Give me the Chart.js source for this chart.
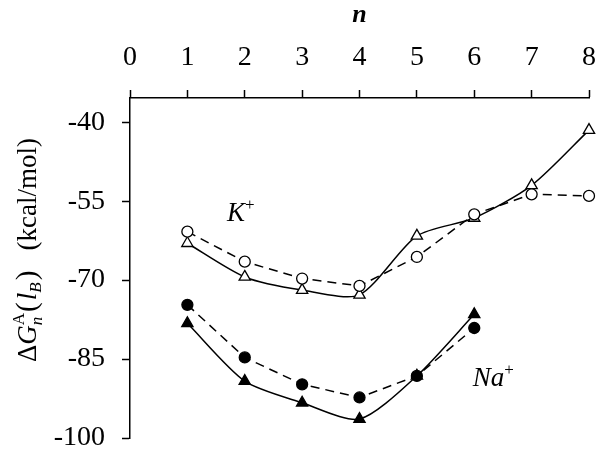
<!DOCTYPE html>
<html>
<head>
<meta charset="utf-8">
<script src="https://cdn.jsdelivr.net/npm/chart.js@4.4.1/dist/chart.umd.min.js"></script>
<style>
  html, body { margin: 0; padding: 0; background: #fff; }
  #wrap { width: 602px; height: 454px; }
</style>
</head>
<body>
<div id="wrap"><canvas id="myChart" width="602" height="454"></canvas></div>
<script>
// number of ions n
var nValues = [1, 2, 3, 4, 5, 6, 7, 8];
var yTicks = [-100, -85, -70, -55, -40];

// K+ series (kcal/mol)
var kCircle = [-60.8, -66.5, -69.7, -71.1, -65.6, -57.5, -53.7, -54.0];
var kTriangle = [-63.0, -69.4, -71.9, -72.8, -61.6, -58.2, -52.0, -41.5];

// Na+ series (kcal/mol), only up to n = 6
var naCircle = [-74.7, -84.7, -89.8, -92.3, -88.2, -79.1];
var naTriangle = [-78.2, -89.2, -93.3, -96.4, -88.2, -76.5];

var serif = "'Liberation Serif', serif";

function toPoints(values) {
    return values.map(function (v, i) {
        return { x: nValues[i], y: v };
    });
}

// draws a sequence of text pieces (normal / italic / sub / sup) left to right
function drawParts(ctx, parts, x, y) {
    var total = 0;
    parts.forEach(function (p) {
        ctx.font = p.font;
        p.w = ctx.measureText(p.t).width;
        if (p.stack) {
            ctx.font = p.stack.font;
            p.w = Math.max(p.w, ctx.measureText(p.stack.t).width);
        }
        total += p.w + (p.gap || 0);
    });
    var cx = x - total / 2;
    parts.forEach(function (p) {
        ctx.font = p.font;
        ctx.fillText(p.t, cx, y + (p.dy || 0));
        if (p.stack) {
            ctx.font = p.stack.font;
            ctx.fillText(p.stack.t, cx, y + p.stack.dy);
        }
        cx += p.w + (p.gap || 0);
    });
}

var textPlugin = {
    id: 'textPlugin',
    afterDraw: function (chart) {
        var ctx = chart.ctx;
        var xs = chart.scales.x;
        var ys = chart.scales.y;
        ctx.save();
        ctx.fillStyle = '#000';
        ctx.textBaseline = 'alphabetic';
        ctx.textAlign = 'left';

        // y axis title, rotated
        ctx.save();
        ctx.translate(36, 250);
        ctx.rotate(-Math.PI / 2);
        drawParts(ctx, [
            { t: '\u0394', font: '27px ' + serif },
            { t: 'G', font: 'italic 27px ' + serif },
            { t: 'n', font: 'italic 17px ' + serif, dy: 6, stack: { t: 'A', font: '17px ' + serif, dy: -12 }, gap: 1 },
            { t: '(', font: '29px ' + serif, gap: 2 },
            { t: 'l', font: 'italic 27px ' + serif },
            { t: 'B', font: 'italic 17px ' + serif, dy: 5, gap: 2 },
            { t: ')', font: '29px ' + serif },
            { t: '   (kcal/mol)', font: '27px ' + serif }
        ], 0, 0);
        ctx.restore();

        // ion labels
        drawParts(ctx, [
            { t: 'K', font: 'italic 27px ' + serif },
            { t: '+', font: '17px ' + serif, dy: -11 }
        ], xs.getPixelForValue(1.93), ys.getPixelForValue(-58.8));
        drawParts(ctx, [
            { t: 'Na', font: 'italic 27px ' + serif },
            { t: '+', font: '17px ' + serif, dy: -11 }
        ], xs.getPixelForValue(6.33), ys.getPixelForValue(-90.1));
        ctx.restore();
    }
};

// fixed axis box sizes, no extra label overhang padding
function fixBox(size) {
    return function (scale) {
        if (scale.isHorizontal()) {
            scale.height = size;
        } else {
            scale.width = size;
        }
        scale.paddingLeft = 0;
        scale.paddingRight = 0;
        scale.paddingTop = 0;
        scale.paddingBottom = 0;
    };
}

document.addEventListener('DOMContentLoaded', function () {
    var ctx = document.getElementById('myChart').getContext('2d');

    var lineBase = {
        borderColor: '#000',
        borderWidth: 1.5,
        pointBorderColor: '#000',
        pointBorderWidth: 1.3,
        clip: false
    };

    var myChart = new Chart(ctx, {
        type: 'line',
        data: {
            datasets: [
                Object.assign({}, lineBase, {
                    label: 'K+ circle',
                    data: toPoints(kCircle),
                    borderDash: [9, 6],
                    tension: 0,
                    pointStyle: 'circle',
                    pointRadius: 5.5,
                    pointBackgroundColor: '#fff'
                }),
                Object.assign({}, lineBase, {
                    label: 'K+ triangle',
                    data: toPoints(kTriangle),
                    tension: 0.25,
                    pointStyle: 'triangle',
                    pointRadius: 6.5,
                    pointBackgroundColor: '#fff'
                }),
                Object.assign({}, lineBase, {
                    label: 'Na+ circle',
                    data: toPoints(naCircle),
                    borderDash: [9, 6],
                    tension: 0,
                    pointStyle: 'circle',
                    pointRadius: 5.5,
                    pointBackgroundColor: '#000'
                }),
                Object.assign({}, lineBase, {
                    label: 'Na+ triangle',
                    data: toPoints(naTriangle),
                    tension: 0.25,
                    pointStyle: 'triangle',
                    pointRadius: 6.5,
                    pointBackgroundColor: '#000'
                })
            ]
        },
        options: {
            responsive: false,
            devicePixelRatio: 1,
            animation: false,
            layout: {
                padding: { left: 0, right: 13, top: 0, bottom: 16 }
            },
            plugins: {
                legend: { display: false },
                tooltip: { enabled: false }
            },
            scales: {
                x: {
                    type: 'linear',
                    position: 'top',
                    min: 0,
                    max: 8,
                    afterFit: fixBox(98),
                    ticks: {
                        stepSize: 1,
                        color: '#000',
                        padding: 16,
                        font: { family: serif, size: 28 }
                    },
                    grid: {
                        drawOnChartArea: false,
                        drawTicks: true,
                        tickLength: 8,
                        tickWidth: 1.5,
                        color: '#000'
                    },
                    border: { color: '#000', width: 1.5 },
                    title: {
                        display: true,
                        text: 'n',
                        color: '#000',
                        padding: { top: 0, bottom: 0 },
                        font: { family: serif, size: 26, style: 'italic', weight: 'bold' }
                    }
                },
                y: {
                    type: 'linear',
                    min: -100,
                    max: -35.4,
                    afterFit: fixBox(130),
                    afterBuildTicks: function (scale) {
                        scale.ticks = yTicks.map(function (v) { return { value: v }; });
                    },
                    ticks: {
                        color: '#000',
                        padding: 17,
                        font: { family: serif, size: 28 }
                    },
                    grid: {
                        drawOnChartArea: false,
                        drawTicks: true,
                        tickLength: 8,
                        tickWidth: 1.5,
                        color: '#000'
                    },
                    border: { color: '#000', width: 1.5 }
                }
            }
        },
        plugins: [textPlugin]
    });
});
</script>
</body>
</html>
